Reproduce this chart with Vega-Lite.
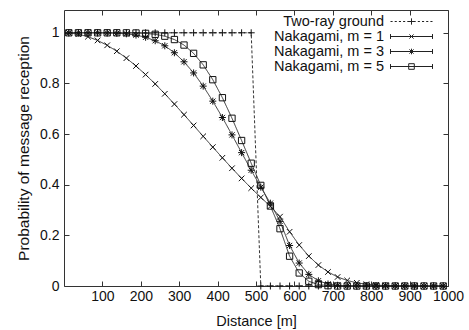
{
  "$schema": "https://vega.github.io/schema/vega-lite/v6.json",
  "width": 384,
  "height": 276,
  "autosize": "none",
  "padding": {"left": 64, "top": 10, "right": 21, "bottom": 44},
  "config": {
    "view": {"stroke": null},
    "font": "Liberation Sans",
    "axis": {
      "domainColor": "#333", "tickColor": "#333", "tickSize": -5, "grid": false, "labelOverlap": false, "labelFlush": false,
      "labelColor": "#111", "titleColor": "#111", "labelFontSize": 14, "titleFontSize": 14.5,
      "titleFontWeight": "normal", "labelFont": "Liberation Sans", "titleFont": "Liberation Sans"
    }
  },
  "data": {"values": [
    {"d":12.5,"Two-ray ground":1,"Nakagami, m = 1":0.9994,"Nakagami, m = 3":1,"Nakagami, m = 5":1},
    {"d":37.5,"Two-ray ground":1,"Nakagami, m = 1":0.9944,"Nakagami, m = 3":1,"Nakagami, m = 5":1},
    {"d":62.5,"Two-ray ground":1,"Nakagami, m = 1":0.9845,"Nakagami, m = 3":1,"Nakagami, m = 5":1},
    {"d":87.5,"Two-ray ground":1,"Nakagami, m = 1":0.9698,"Nakagami, m = 3":0.9999,"Nakagami, m = 5":1},
    {"d":112.5,"Two-ray ground":1,"Nakagami, m = 1":0.9506,"Nakagami, m = 3":0.9995,"Nakagami, m = 5":1},
    {"d":137.5,"Two-ray ground":1,"Nakagami, m = 1":0.9272,"Nakagami, m = 3":0.9983,"Nakagami, m = 5":1},
    {"d":162.5,"Two-ray ground":1,"Nakagami, m = 1":0.8998,"Nakagami, m = 3":0.9959,"Nakagami, m = 5":0.9998},
    {"d":187.5,"Two-ray ground":1,"Nakagami, m = 1":0.8688,"Nakagami, m = 3":0.9909,"Nakagami, m = 5":0.9992},
    {"d":212.5,"Two-ray ground":1,"Nakagami, m = 1":0.8348,"Nakagami, m = 3":0.9822,"Nakagami, m = 5":0.9977},
    {"d":237.5,"Two-ray ground":1,"Nakagami, m = 1":0.798,"Nakagami, m = 3":0.9686,"Nakagami, m = 5":0.994},
    {"d":262.5,"Two-ray ground":1,"Nakagami, m = 1":0.7591,"Nakagami, m = 3":0.9486,"Nakagami, m = 5":0.9866},
    {"d":287.5,"Two-ray ground":1,"Nakagami, m = 1":0.7184,"Nakagami, m = 3":0.9212,"Nakagami, m = 5":0.9733},
    {"d":312.5,"Two-ray ground":1,"Nakagami, m = 1":0.6766,"Nakagami, m = 3":0.8855,"Nakagami, m = 5":0.9516},
    {"d":337.5,"Two-ray ground":1,"Nakagami, m = 1":0.6341,"Nakagami, m = 3":0.8415,"Nakagami, m = 5":0.9188},
    {"d":362.5,"Two-ray ground":1,"Nakagami, m = 1":0.5912,"Nakagami, m = 3":0.7894,"Nakagami, m = 5":0.8734},
    {"d":387.5,"Two-ray ground":1,"Nakagami, m = 1":0.5485,"Nakagami, m = 3":0.73,"Nakagami, m = 5":0.8147},
    {"d":412.5,"Two-ray ground":1,"Nakagami, m = 1":0.5063,"Nakagami, m = 3":0.6654,"Nakagami, m = 5":0.7436},
    {"d":437.5,"Two-ray ground":1,"Nakagami, m = 1":0.4651,"Nakagami, m = 3":0.5968,"Nakagami, m = 5":0.6624},
    {"d":462.5,"Two-ray ground":1,"Nakagami, m = 1":0.425,"Nakagami, m = 3":0.5267,"Nakagami, m = 5":0.5746},
    {"d":487.5,"Two-ray ground":1,"Nakagami, m = 1":0.3865,"Nakagami, m = 3":0.4572,"Nakagami, m = 5":0.4848},
    {"d":512.5,"Two-ray ground":0,"Nakagami, m = 1":0.3497,"Nakagami, m = 3":0.3901,"Nakagami, m = 5":0.3973},
    {"d":537.5,"Two-ray ground":0,"Nakagami, m = 1":0.3149,"Nakagami, m = 3":0.3271,"Nakagami, m = 5":0.3159},
    {"d":562.5,"Two-ray ground":0,"Nakagami, m = 1":0.2738,"Nakagami, m = 3":0.2553,"Nakagami, m = 5":0.2263},
    {"d":587.5,"Two-ray ground":0,"Nakagami, m = 1":0.2141,"Nakagami, m = 3":0.16,"Nakagami, m = 5":0.1177},
    {"d":612.5,"Two-ray ground":0,"Nakagami, m = 1":0.1618,"Nakagami, m = 3":0.0906,"Nakagami, m = 5":0.0515},
    {"d":637.5,"Two-ray ground":0,"Nakagami, m = 1":0.118,"Nakagami, m = 3":0.0459,"Nakagami, m = 5":0.0187},
    {"d":662.5,"Two-ray ground":0,"Nakagami, m = 1":0.0827,"Nakagami, m = 3":0.0206,"Nakagami, m = 5":0.0055},
    {"d":687.5,"Two-ray ground":0,"Nakagami, m = 1":0.0555,"Nakagami, m = 3":0.0081,"Nakagami, m = 5":0.0013},
    {"d":712.5,"Two-ray ground":0,"Nakagami, m = 1":0.0356,"Nakagami, m = 3":0.0028,"Nakagami, m = 5":0.0002},
    {"d":737.5,"Two-ray ground":0,"Nakagami, m = 1":0.0218,"Nakagami, m = 3":0.0008,"Nakagami, m = 5":0},
    {"d":762.5,"Two-ray ground":0,"Nakagami, m = 1":0.0126,"Nakagami, m = 3":0.0002,"Nakagami, m = 5":0},
    {"d":787.5,"Two-ray ground":0,"Nakagami, m = 1":0.0069,"Nakagami, m = 3":0,"Nakagami, m = 5":0},
    {"d":812.5,"Two-ray ground":0,"Nakagami, m = 1":0.0036,"Nakagami, m = 3":0,"Nakagami, m = 5":0},
    {"d":837.5,"Two-ray ground":0,"Nakagami, m = 1":0.0017,"Nakagami, m = 3":0,"Nakagami, m = 5":0},
    {"d":862.5,"Two-ray ground":0,"Nakagami, m = 1":0.0008,"Nakagami, m = 3":0,"Nakagami, m = 5":0},
    {"d":887.5,"Two-ray ground":0,"Nakagami, m = 1":0.0003,"Nakagami, m = 3":0,"Nakagami, m = 5":0},
    {"d":912.5,"Two-ray ground":0,"Nakagami, m = 1":0.0001,"Nakagami, m = 3":0,"Nakagami, m = 5":0},
    {"d":937.5,"Two-ray ground":0,"Nakagami, m = 1":0,"Nakagami, m = 3":0,"Nakagami, m = 5":0},
    {"d":962.5,"Two-ray ground":0,"Nakagami, m = 1":0,"Nakagami, m = 3":0,"Nakagami, m = 5":0},
    {"d":987.5,"Two-ray ground":0,"Nakagami, m = 1":0,"Nakagami, m = 3":0,"Nakagami, m = 5":0}
  ]},
  "transform": [
    {"fold": ["Two-ray ground", "Nakagami, m = 1", "Nakagami, m = 3", "Nakagami, m = 5"], "as": ["series", "p"]}
  ],
  "layer": [
    {
      "mark": {"type": "line", "color": "#333", "strokeWidth": 1},
      "encoding": {
        "x": {"field": "d", "type": "quantitative",
              "scale": {"domain": [0, 1000], "nice": false, "zero": false},
              "axis": {"orient": "bottom", "values": [100,200,300,400,500,600,700,800,900,1000], "format": "d",
                       "title": "Distance [m]", "labelPadding": 8.5, "titlePadding": 11}},
        "y": {"field": "p", "type": "quantitative",
              "scale": {"domain": [0, 1.09], "nice": false},
              "axis": {"orient": "left", "values": [0,0.2,0.4,0.6,0.8,1], "format": "~g",
                       "title": "Probability of message reception", "titleFontSize": 15.5, "labelPadding": 10, "titlePadding": 8}},
        "detail": {"field": "series", "type": "nominal"},
        "strokeDash": {"condition": {"test": "datum.series === 'Two-ray ground'", "value": [3,2]}, "value": [1,0]}
      }
    },
    {
      "mark": {"type": "point", "filled": false, "color": "#111", "strokeWidth": 1, "size": 49, "opacity": 1},
      "encoding": {
        "x": {"field": "d", "type": "quantitative",
              "axis": {"orient": "top", "labels": false, "title": null, "values": [100,200,300,400,500,600,700,800,900,1000]}},
        "y": {"field": "p", "type": "quantitative",
              "axis": {"orient": "right", "labels": false, "title": null, "values": [0,0.2,0.4,0.6,0.8,1]}},
        "shape": {"condition": [
                    {"test": "datum.series === 'Two-ray ground'", "value": "M-1,0H1M0,-1V1"},
                    {"test": "datum.series === 'Nakagami, m = 1'", "value": "M-0.8,-0.8L0.8,0.8M-0.8,0.8L0.8,-0.8"},
                    {"test": "datum.series === 'Nakagami, m = 3'", "value": "M-1,0H1M0,-1V1M-0.75,-0.75L0.75,0.75M-0.75,0.75L0.75,-0.75"}
                  ],
                  "value": "M-0.9,-0.9H0.9V0.9H-0.9Z"}
      }
    },
    {
      "transform": [{"filter": "datum.d < 0"}],
      "mark": {"type": "point", "filled": false, "color": "#222", "strokeWidth": 1},
      "encoding": {
        "shape": {"field": "series", "type": "nominal",
                  "scale": {"domain": ["Two-ray ground", "Nakagami, m = 1", "Nakagami, m = 3", "Nakagami, m = 5"],
                            "range": [
                              "M-3,0H-2.7M-2.4,0H-2.1M-1.8,0H-1.5M-1.2,0H-0.9M-0.6,0H-0.3M0.3,0H0.6M0.9,0H1.2M1.5,0H1.8M2.1,0H2.4M2.7,0H3M-0.45,0H0.45M0,-0.45V0.45",
                              "M-3,0H3M-3,-0.35V0.35M3,-0.35V0.35M-0.3,-0.3L0.3,0.3M-0.3,0.3L0.3,-0.3",
                              "M-3,0H3M-3,-0.35V0.35M3,-0.35V0.35M0,-0.4V0.4M-0.3,-0.3L0.3,0.3M-0.3,0.3L0.3,-0.3",
                              "M-3,0H3M-3,-0.35V0.35M3,-0.35V0.35M-0.4,-0.4H0.4V0.4H-0.4Z"]},
                  "legend": {
                    "title": null, "orient": "none", "legendX": 340, "legendY": 4,
                    "symbolSize": 196, "symbolStrokeWidth": 1, "symbolStrokeColor": "#222", "symbolFillColor": "transparent", "symbolOpacity": 1,
                    "labelAlign": "right", "labelOffset": -35, "labelFontSize": 14.5, "labelColor": "#111",
                    "labelFont": "Liberation Sans", "rowPadding": 0, "padding": 0
                  }}
      }
    }
  ],
  "resolve": {"axis": {"x": "independent", "y": "independent"}}
}
